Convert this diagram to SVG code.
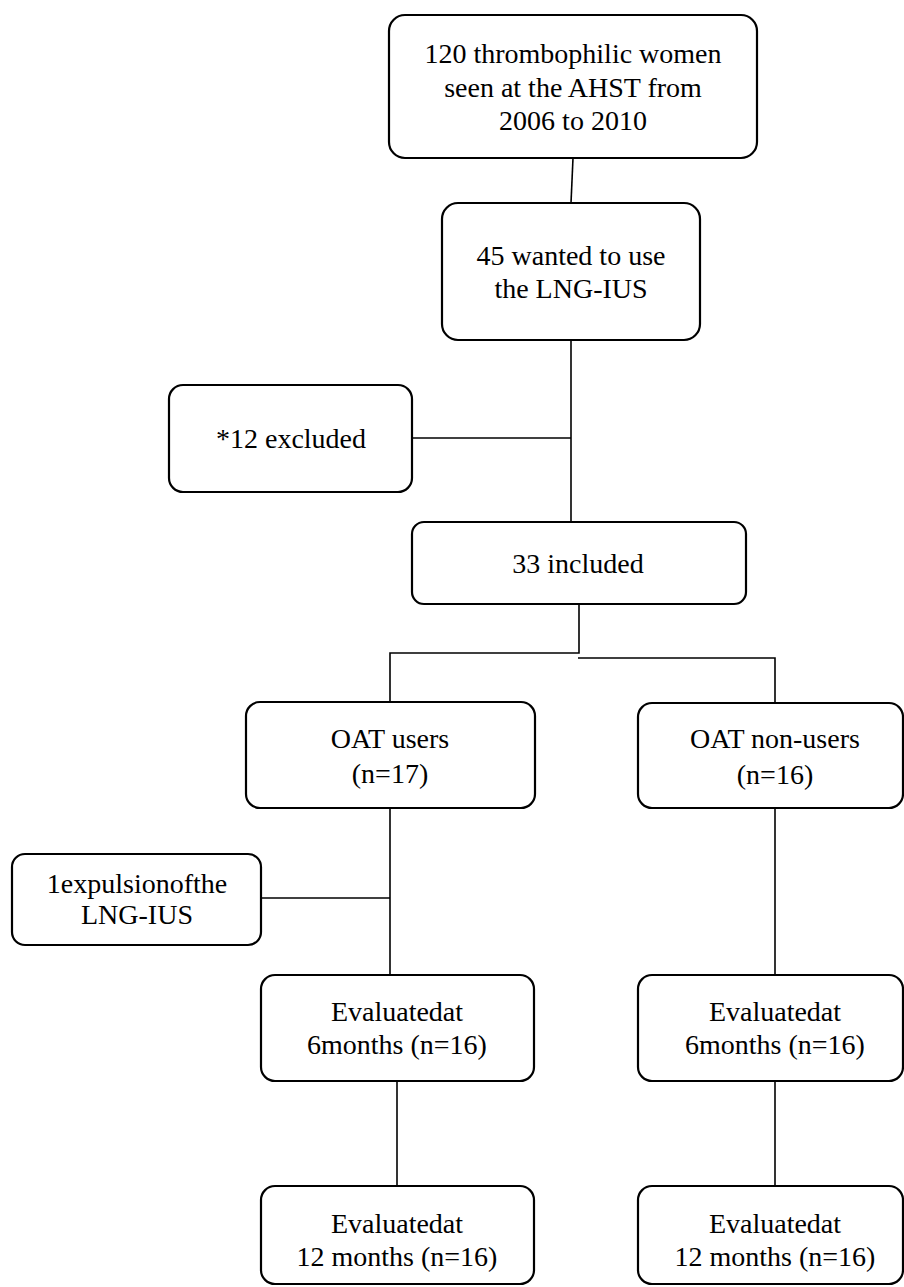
<svg xmlns="http://www.w3.org/2000/svg" width="904" height="1287" viewBox="0 0 904 1287">
<style>
.box{fill:#fff;stroke:#000;stroke-width:2.2}
.t{font-size:28px;fill:#000;text-anchor:middle}
.c{stroke:#000;stroke-width:1.6;fill:none}
</style>
<rect width="904" height="1287" fill="#fff"/>
<g id="connectors">
<line class="c" x1="573" y1="158" x2="571" y2="203"/>
<line class="c" x1="571" y1="340" x2="571" y2="522"/>
<line class="c" x1="412" y1="438" x2="571" y2="438"/>
<polyline class="c" points="579,604 579,653 390,653 390,702"/>
<polyline class="c" points="578,658 775,658 775,703"/>
<line class="c" x1="390" y1="808" x2="390" y2="975"/>
<line class="c" x1="261" y1="898" x2="390" y2="898"/>
<line class="c" x1="775" y1="808" x2="775" y2="975"/>
<line class="c" x1="397" y1="1081" x2="397" y2="1186"/>
<line class="c" x1="775" y1="1081" x2="775" y2="1186"/>
</g>
<g font-family="Liberation Serif, DejaVu Serif, serif">
<g id="n1">
<rect class="box" x="389" y="15" width="368" height="143" rx="16"/>
<text class="t" x="573" y="63">120 thrombophilic women</text>
<text class="t" x="573" y="97">seen at the AHST from</text>
<text class="t" x="573" y="130">2006 to 2010</text>
</g>
<g id="n2">
<rect class="box" x="442" y="203" width="258" height="137" rx="16"/>
<text class="t" x="571" y="265">45 wanted to use</text>
<text class="t" x="571" y="298">the LNG-IUS</text>
</g>
<g id="n3">
<rect class="box" x="169" y="385" width="243" height="107" rx="14"/>
<text class="t" x="291" y="448">*12 excluded</text>
</g>
<g id="n4">
<rect class="box" x="412" y="522" width="334" height="82" rx="12"/>
<text class="t" x="578" y="573">33 included</text>
</g>
<g id="n5">
<rect class="box" x="246" y="702" width="289" height="106" rx="14"/>
<text class="t" x="390" y="748">OAT users</text>
<text class="t" x="390" y="783">(n=17)</text>
</g>
<g id="n6">
<rect class="box" x="638" y="703" width="265" height="105" rx="14"/>
<text class="t" x="775" y="748">OAT non-users</text>
<text class="t" x="775" y="784">(n=16)</text>
</g>
<g id="n7">
<rect class="box" x="12" y="854" width="249" height="91" rx="13"/>
<text class="t" x="137" y="893">1expulsionofthe</text>
<text class="t" x="137" y="924">LNG-IUS</text>
</g>
<g id="n8">
<rect class="box" x="261" y="975" width="273" height="106" rx="14"/>
<text class="t" x="397" y="1021">Evaluatedat</text>
<text class="t" x="397" y="1054">6months (n=16)</text>
</g>
<g id="n9">
<rect class="box" x="638" y="975" width="265" height="106" rx="14"/>
<text class="t" x="775" y="1021">Evaluatedat</text>
<text class="t" x="775" y="1054">6months (n=16)</text>
</g>
<g id="n10">
<rect class="box" x="261" y="1186" width="273" height="98" rx="14"/>
<text class="t" x="397" y="1233">Evaluatedat</text>
<text class="t" x="397" y="1266">12 months (n=16)</text>
</g>
<g id="n11">
<rect class="box" x="638" y="1186" width="265" height="98" rx="14"/>
<text class="t" x="775" y="1233">Evaluatedat</text>
<text class="t" x="775" y="1266">12 months (n=16)</text>
</g>
</g>
</svg>
